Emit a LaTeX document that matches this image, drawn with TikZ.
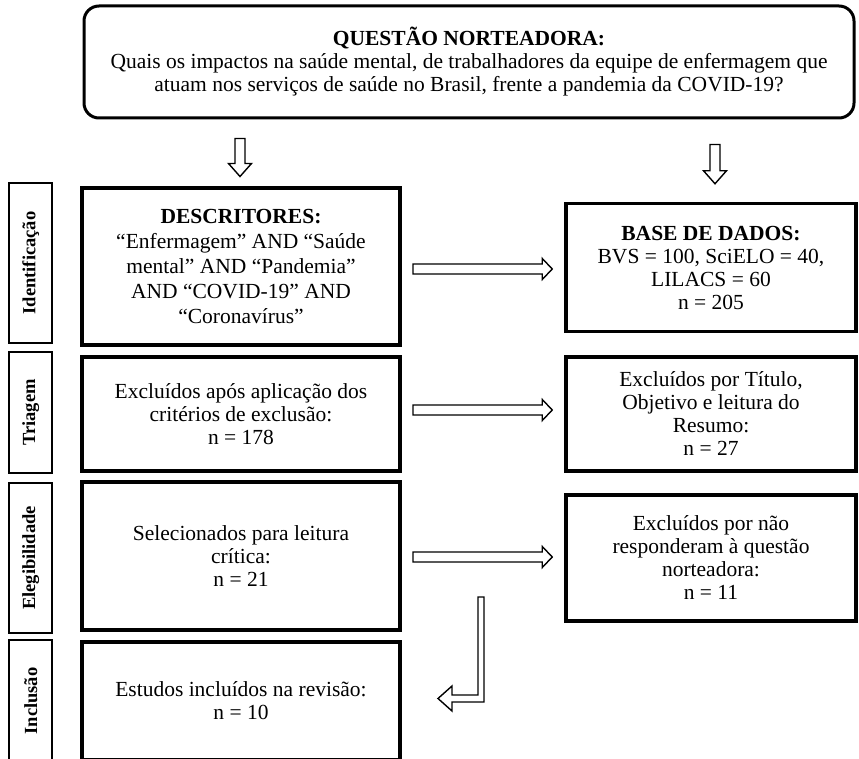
\documentclass[tikz,border=0pt]{standalone}
\usepackage{fontspec}
\setmainfont{Liberation Serif}
\usetikzlibrary{calc}
\tikzset{
  txt/.style={font=\fontsize{21.5}{23}\selectfont, align=center, inner sep=0pt},
  topbox/.style={txt, draw, line width=3pt, rounded corners=15pt, minimum width=770pt, minimum height=112pt},
  mainbox/.style={txt, draw, line width=4pt, minimum width=318pt},
  rightbox/.style={txt, draw, line width=3.5pt, minimum width=290pt},
  sidebox/.style={draw, line width=1.8pt, rotate=90, minimum height=43pt, inner sep=0pt,
                  font=\bfseries\fontsize{18.5}{18.5}\selectfont},
  blockarrow/.style={draw=black, line width=1.4pt, fill=white, line join=miter},
}
\newcommand\harrow[2]{\draw[blockarrow] let \p1=(#1), \p2=(#2) in
  (\x1,\y1+5pt) -- (\x2-10pt,\y1+5pt) -- (\x2-10pt,\y1+10.5pt) -- (\x2,\y1)
  -- (\x2-10pt,\y1-10.5pt) -- (\x2-10pt,\y1-5pt) -- (\x1,\y1-5pt) -- cycle;}
\newcommand\varrow[2]{\draw[blockarrow] let \p1=(#1), \p2=(#2) in
  (\x1-5pt,\y1) -- (\x1-5pt,\y2+13pt) -- (\x1-11.5pt,\y2+13pt) -- (\x1,\y2)
  -- (\x1+11.5pt,\y2+13pt) -- (\x1+5pt,\y2+13pt) -- (\x1+5pt,\y1) -- cycle;}
\begin{document}
\begin{tikzpicture}[x=1pt,y=-1pt]
\useasboundingbox (0,0) rectangle (859,759);

\node[topbox] (q) at (469,62) {\textbf{QUESTÃO NORTEADORA:}\\
  Quais os impactos na saúde mental, de trabalhadores da equipe de enfermagem que\\
  atuam nos serviços de saúde no Brasil, frente a pandemia da COVID-19?};

% left column
\node[mainbox, minimum height=156pt, font=\fontsize{21.5}{25}\selectfont] (d) at (241,266.5)
  {\textbf{DESCRITORES:}\\ “Enfermagem” AND “Saúde\\ mental” AND “Pandemia”\\ AND “COVID-19” AND\\ “Coronavírus”};
\node[mainbox, minimum height=114pt] (t) at (241,414)
  {Excluídos após aplicação dos\\ critérios de exclusão:\\ n = 178};
\node[mainbox, minimum height=148pt] (e) at (241,556)
  {Selecionados para leitura\\ crítica:\\ n = 21};
\node[mainbox, minimum height=118pt] (i) at (241,701)
  {Estudos incluídos na revisão:\\ n = 10};

% right column
\node[rightbox, minimum height=128pt] (b) at (711,267.5)
  {\textbf{BASE DE DADOS:}\\ BVS = 100, SciELO = 40,\\ LILACS = 60\\ n = 205};
\node[rightbox, minimum height=114pt] (tr) at (711,414)
  {Excluídos por Título,\\ Objetivo e leitura do\\ Resumo:\\ n = 27};
\node[rightbox, minimum height=126pt] (er) at (711,558)
  {Excluídos por não\\ responderam à questão\\ norteadora:\\ n = 11};

% side labels
\node[sidebox, minimum width=160pt] (s1) at (30.8,263) {Identificação};
\node[sidebox, minimum width=121pt] (s2) at (30.8,412.5) {Triagem};
\node[sidebox, minimum width=150pt] (s3) at (30.8,558) {Elegibilidade};
\node[sidebox, minimum width=122pt] (s4) at (30.8,701) {Inclusão};

% arrows
\varrow{$(q.south -| d.north)+(-1,19)$}{$(d.north)+(0,-10)$}
\varrow{$(q.south -| b.north)+(4,25)$}{$(b.north)+(4,-18)$}
\harrow{$(d.east)+(11,2.5)$}{$(b.west)+(-12,0)$}
\harrow{$(t.east)+(11,-4)$}{$(tr.west)+(-12,0)$}
\harrow{$(e.east)+(11,1)$}{$(er.west)+(-12,0)$}
\coordinate (lt) at ($(e.east)+(79,41)$);
\coordinate (ltip) at ($(i.east)+(36,-2.5)$);
\draw[blockarrow] let \p1=(lt), \p2=(ltip) in
  (\x1-3pt,\y1) -- (\x1+3pt,\y1) -- (\x1+3pt,\y2-3.5pt) -- (\x2+14pt,\y2-3.5pt)
  -- (\x2+14pt,\y2-12.5pt) -- (\x2,\y2) -- (\x2+14pt,\y2+12.5pt) -- (\x2+14pt,\y2+3.5pt)
  -- (\x1-3pt,\y2+3.5pt) -- cycle;
\end{tikzpicture}
\end{document}
